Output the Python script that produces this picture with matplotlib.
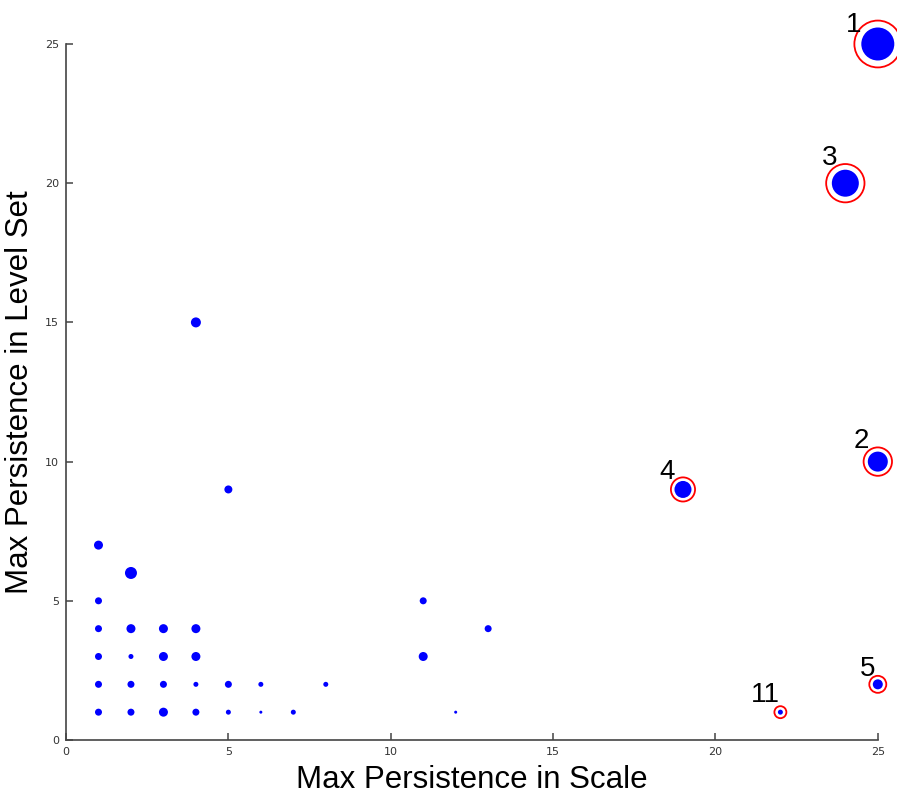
import matplotlib
matplotlib.use("Agg")
import matplotlib.pyplot as plt
import numpy as np

# Data: (scale persistence, level-set persistence, marker diameter in px)
x_vals = [1, 2, 1, 1, 2, 3, 4, 1, 2, 3, 4, 1, 2, 3, 4, 5, 6, 8,
          1, 2, 3, 4, 5, 6, 7, 4, 5, 11, 13, 11, 12,
          25, 24, 25, 19, 25, 22]
y_vals = [7, 6, 5, 4, 4, 4, 4, 3, 3, 3, 3, 2, 2, 2, 2, 2, 2, 2,
          1, 1, 1, 1, 1, 1, 1, 15, 9, 5, 4, 3, 1,
          25, 20, 10, 9, 2, 1]
diam_px = [9, 12, 7, 7, 9, 9, 9, 7, 5, 9, 9, 7, 7, 7, 5, 7, 5, 5,
           7, 7, 9, 7, 5, 3, 5, 10, 8, 7, 7, 9, 3,
           33, 27, 20, 17, 10, 5]

# Highlighted (ranked) points
rank_labels = ["1", "3", "2", "4", "5", "11"]
rank_x = [25, 24, 25, 19, 25, 22]
rank_y = [25, 20, 10, 9, 2, 1]
rank_diam_px = [33, 27, 20, 17, 10, 5]

# label placement (style): offsets in pixels from the point
label_offsets_px = [(-16, 12), (-8, 18), (-9, 14), (-8, 10), (-2, 8), (-1, 10)]

ticks = [0, 5, 10, 15, 20, 25]

DPI = 100
fig = plt.figure(figsize=(8.97, 7.97), dpi=DPI)
ax = fig.add_axes([0.0736, 0.0715, 0.905, 0.8733])

px2pt = 72.0 / DPI
s_blue = [(d * px2pt) ** 2 for d in diam_px]
ax.scatter(x_vals, y_vals, s=s_blue, c="#0000ff", edgecolors="none",
           zorder=3, clip_on=False)

ring_d = [d + 2 * max(3.5, 0.21 * d) for d in rank_diam_px]
s_ring = [(d * px2pt) ** 2 for d in ring_d]
ax.scatter(rank_x, rank_y, s=s_ring, facecolors="white", edgecolors="#ff0000",
           linewidths=1.3, zorder=2, clip_on=False)

for lab, xx, yy, (ox, oy) in zip(rank_labels, rank_x, rank_y, label_offsets_px):
    ax.annotate(lab, (xx, yy), xytext=(ox * px2pt, oy * px2pt),
                textcoords="offset points",
                ha="right", va="baseline", fontsize=20,
                family="Liberation Sans", color="black", zorder=4,
                annotation_clip=False)

ax.set_xlim(0, 25)
ax.set_ylim(0, 25)
ax.set_xticks(ticks)
ax.set_yticks(ticks)
ax.set_xticklabels([str(t) for t in ticks])
ax.set_yticklabels([str(t) for t in ticks])

for sp in ["top", "right"]:
    ax.spines[sp].set_visible(False)
for sp in ["left", "bottom"]:
    ax.spines[sp].set_color("#444444")
    ax.spines[sp].set_linewidth(1.2)

ax.tick_params(direction="in", length=5, width=1.1, color="#444444",
               labelsize=8, labelcolor="#333333", pad=5)

ax.set_xlabel("Max Persistence in Scale", fontsize=22.5,
              family="Liberation Sans", labelpad=6)
ax.set_ylabel("Max Persistence in Level Set", fontsize=22.5,
              family="Liberation Sans", labelpad=7)

fig.savefig("out.png", dpi=DPI)
